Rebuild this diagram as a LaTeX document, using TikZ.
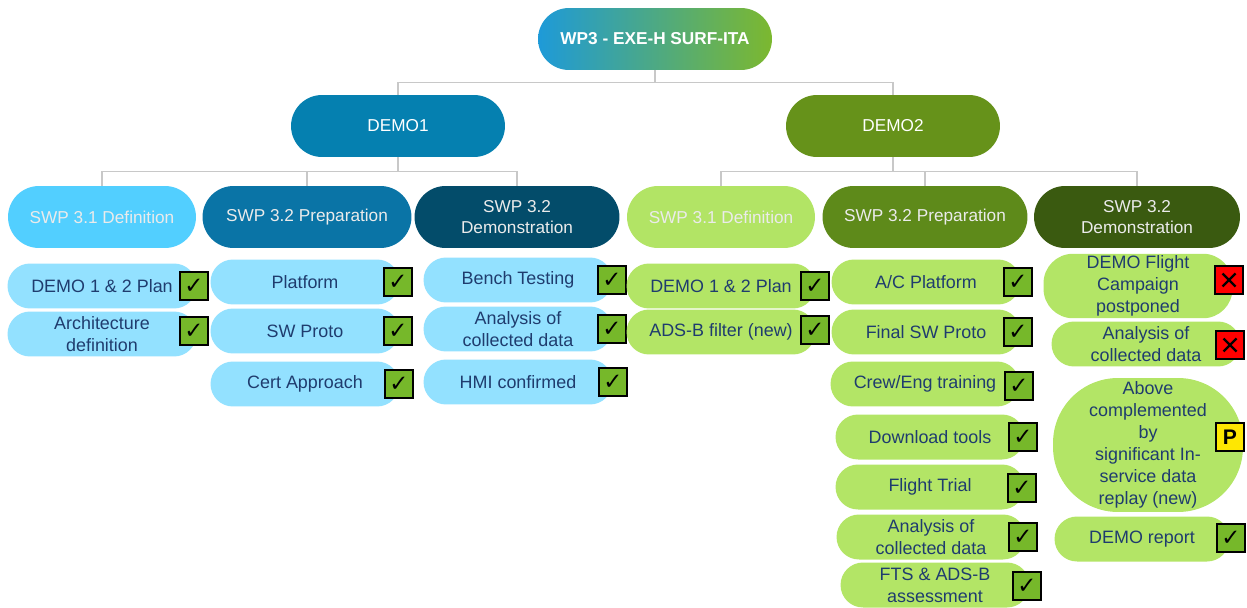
\documentclass[tikz,border=0pt]{standalone}
\usepackage{fontspec}
\setmainfont{Liberation Sans}
\newfontfamily\symfont{DejaVu Sans}

\definecolor{rootL}{HTML}{1E9AD8}
\definecolor{rootR}{HTML}{7CB82F}
\definecolor{demoA}{HTML}{0580B0}
\definecolor{demoB}{HTML}{66921A}
\definecolor{subAa}{HTML}{52CFFF}
\definecolor{subAb}{HTML}{0A74A6}
\definecolor{subAc}{HTML}{034C6A}
\definecolor{subBa}{HTML}{B2E465}
\definecolor{subBb}{HTML}{5E8A1A}
\definecolor{subBc}{HTML}{3A5A10}
\definecolor{leafA}{HTML}{93E1FF}
\definecolor{leafB}{HTML}{B3E566}
\definecolor{ink}{HTML}{1F3C6E}
\definecolor{tickgreen}{HTML}{76B82A}
\definecolor{linkgray}{HTML}{C8C8C8}

\tikzset{
  link/.style={draw=linkgray, line width=0.8pt},
  rootbox/.style={minimum width=4.68cm, minimum height=1.24cm, rounded corners=0.62cm,
    left color=rootL, right color=rootR, text=white, font=\bfseries\fontsize{9.8}{12}\selectfont},
  demobox/.style={fill=#1, minimum width=4.28cm, minimum height=1.24cm, rounded corners=0.62cm,
    text=white, font=\fontsize{9.8}{12}\selectfont},
  subbox/.style={fill=#1, minimum width=4.1cm, minimum height=1.24cm, rounded corners=0.62cm,
    text=white!92!black, align=center, font=\fontsize{9.8}{12}\selectfont},
  leaf/.style={fill=#1, minimum width=3.78cm, minimum height=0.9cm, rounded corners=0.45cm,
    text=ink, align=center, inner sep=1pt, font=\fontsize{10.2}{12.6}\selectfont},
  statusbox/.style={draw=black, line width=1.1pt, minimum size=0.56cm, inner sep=0pt},
  tick/.style={statusbox, fill=tickgreen, font=\symfont\fontsize{13}{13}\selectfont},
  cross/.style={statusbox, fill=red, path picture={
    \draw[line width=1.3pt] ([shift={(-0.13cm,0.13cm)}]path picture bounding box.center) -- ++(0.26cm,-0.26cm)
      ([shift={(-0.13cm,-0.13cm)}]path picture bounding box.center) -- ++(0.26cm,0.26cm);}},
  part/.style={statusbox, fill=yellow!90!orange, font=\bfseries\fontsize{12}{12}\selectfont}
}

\begin{document}
\begin{tikzpicture}[x=0.02cm, y=-0.02cm]
    \useasboundingbox (0,0) rectangle (1247,608);

    % top of the tree
    \node[rootbox] (root) at (655,39) {WP3 - EXE-H SURF-ITA};
    \node[demobox=demoA] (demoA) at (398,126) {DEMO1};
    \node[demobox=demoB] (demoB) at (893,126) {DEMO2};

    \draw[link] (root.south) -- ++(0,12) -| (demoA.north);
    \draw[link] (root.south) -- ++(0,12) -| (demoB.north);

    % sub work packages
    \node[subbox=subAa, minimum width=3.76cm] (subAa) at (102,217) {SWP 3.1 Definition};
    \node[subbox=subAb, minimum width=4.18cm] (subAb) at (307,217) {SWP 3.2 Preparation};
    \node[subbox=subAc] (subAc) at (517,217) {SWP 3.2\\Demonstration};
    \node[subbox=subBa, minimum width=3.76cm] (subBa) at (721,217) {SWP 3.1 Definition};
    \node[subbox=subBb] (subBb) at (925,217) {SWP 3.2 Preparation};
    \node[subbox=subBc, minimum width=4.12cm] (subBc) at (1137,217) {SWP 3.2\\Demonstration};

    \foreach \s in {subAa,subAb,subAc}
        \draw[link] (demoA.south) -- ++(0,14) -| (\s.north);
    \foreach \s in {subBa,subBb,subBc}
        \draw[link] (demoB.south) -- ++(0,14) -| (\s.north);

    % DEMO1 tasks
    \node[leaf=leafA] (planA) at (102,286) {DEMO 1 \& 2 Plan};
    \node[tick] (planAok) at (194,286) {✓};
    \node[leaf=leafA] (arch) at (102,334) {Architecture\\definition};
    \node[tick] (archok) at (194,331) {✓};

    \node[leaf=leafA] (platform) at (305,282) {Platform};
    \node[tick] (platformok) at (398,282) {✓};
    \node[leaf=leafA] (proto) at (305,331) {SW Proto};
    \node[tick] (protook) at (398,331) {✓};
    \node[leaf=leafA] (cert) at (305,384) {Cert Approach};
    \node[tick] (certok) at (399,384) {✓};

    \node[leaf=leafA] (bench) at (518,280) {Bench Testing};
    \node[tick] (benchok) at (612,280) {✓};
    \node[leaf=leafA] (analysisA) at (518,329) {Analysis of\\collected data};
    \node[tick] (analysisAok) at (612,329) {✓};
    \node[leaf=leafA] (hmi) at (518,382) {HMI confirmed};
    \node[tick] (hmiok) at (613,382) {✓};

    % DEMO2 tasks
    \node[leaf=leafB] (planB) at (721,286) {DEMO 1 \& 2 Plan};
    \node[tick] (planBok) at (815,286) {✓};
    \node[leaf=leafB] (adsb) at (721,332) {ADS-B filter (new)};
    \node[tick] (adsbok) at (815,330) {✓};

    \node[leaf=leafB] (acplat) at (926,282) {A/C Platform};
    \node[tick] (acplatok) at (1018,282) {✓};
    \node[leaf=leafB] (finalsw) at (926,332) {Final SW Proto};
    \node[tick] (finalswok) at (1018,332) {✓};
    \node[leaf=leafB] (crew) at (925,384) {Crew/Eng training};
    \node[tick] (crewok) at (1019,386) {✓};
    \node[leaf=leafB] (download) at (930,437) {Download tools};
    \node[tick] (downloadok) at (1023,437) {✓};
    \node[leaf=leafB] (trial) at (930,487) {Flight Trial};
    \node[tick] (trialok) at (1022,488) {✓};
    \node[leaf=leafB] (analysisB) at (931,537) {Analysis of\\collected data};
    \node[tick] (analysisBok) at (1023,537) {✓};
    \node[leaf=leafB] (fts) at (935,585) {FTS \& ADS-B\\assessment};
    \node[tick] (ftsok) at (1027,586) {✓};

    \node[leaf=leafB, minimum height=1.18cm, rounded corners=0.59cm] (campaign) at (1138,286) {DEMO Flight\\Campaign\\postponed};
    \node[cross] (campaignno) at (1229,280) {};
    \node[leaf=leafB] (analysisC) at (1146,344) {Analysis of\\collected data};
    \node[cross] (analysisCno) at (1230,345) {};
    \node[leaf=leafB, minimum width=3.8cm, minimum height=2.68cm, rounded corners=1.3cm] (replay) at (1148,445)
        {Above\\complemented\\by\\significant In-\\service data\\replay (new)};
    \node[part] (replayp) at (1230,437) {P};
    \node[leaf=leafB, minimum width=3.5cm] (report) at (1142,539) {DEMO report};
    \node[tick] (reportok) at (1231,538) {✓};
\end{tikzpicture}
\end{document}
